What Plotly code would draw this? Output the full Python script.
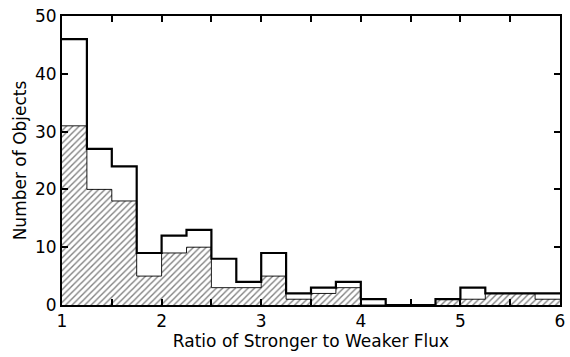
import plotly.graph_objects as go

bin_left = [1.00, 1.25, 1.50, 1.75, 2.00, 2.25, 2.50, 2.75, 3.00, 3.25,
            3.50, 3.75, 4.00, 4.25, 4.50, 4.75, 5.00, 5.25, 5.50, 5.75]
bin_width = 0.25
total_counts = [46, 27, 24, 9, 12, 13, 8, 4, 9, 2,
                3, 4, 1, 0, 0, 1, 3, 2, 2, 2]
hatched_counts = [31, 20, 18, 5, 9, 10, 3, 3, 5, 1,
                  2, 3, 0, 0, 0, 1, 1, 2, 2, 1]
x_tick_vals = [1, 1.5, 2, 2.5, 3, 3.5, 4, 4.5, 5, 5.5, 6]
x_tick_text = ["1", "", "2", "", "3", "", "4", "", "5", "", "6"]
y_tick_vals = [0, 10, 20, 30, 40, 50]

FONT = "DejaVu Sans"
FS = 17

fig = go.Figure()
fig.add_trace(go.Bar(
    x=bin_left, y=hatched_counts, width=bin_width, offset=0,
    marker=dict(color="white",
                line=dict(color="black", width=0),
                pattern=dict(shape="/", fgcolor="black", bgcolor="white",
                             size=4.5, solidity=0.3)),
    showlegend=False, hoverinfo="skip",
))
step_x = bin_left + [bin_left[-1] + bin_width]
fig.add_trace(go.Scatter(
    x=step_x, y=hatched_counts + [hatched_counts[-1]], mode="lines",
    line=dict(color="black", width=0.9, shape="hv"),
    showlegend=False, hoverinfo="skip",
))
fig.add_trace(go.Scatter(
    x=step_x, y=total_counts + [total_counts[-1]], mode="lines",
    line=dict(color="black", width=2.2, shape="hv"),
    showlegend=False, hoverinfo="skip",
))

fig.update_layout(
    width=570, height=357,
    margin=dict(l=62, r=10, t=16, b=52),
    paper_bgcolor="white", plot_bgcolor="white",
    font=dict(family=FONT, size=FS, color="black"),
    bargap=0,
)
fig.update_xaxes(
    range=[1, 6], tickvals=x_tick_vals, ticktext=x_tick_text,
    ticks="inside", ticklen=6, tickwidth=1.5, tickcolor="black",
    showline=True, linecolor="black", linewidth=2, mirror="ticks",
    showgrid=False, zeroline=False, automargin=False,
    title=dict(text="Ratio of Stronger to Weaker Flux", font=dict(family=FONT, size=FS), standoff=3),
    tickfont=dict(family=FONT, size=FS),
)
fig.update_yaxes(
    range=[0, 50], tickvals=y_tick_vals,
    ticks="inside", ticklen=6, tickwidth=1.5, tickcolor="black",
    showline=True, linecolor="black", linewidth=2, mirror="ticks",
    showgrid=False, zeroline=False, automargin=False,
    title=dict(text="Number of Objects", font=dict(family=FONT, size=FS), standoff=4),
    tickfont=dict(family=FONT, size=FS),
)

fig.write_html("out.html", config={"displayModeBar": False},
               post_script="document.body.style.margin='0';")
